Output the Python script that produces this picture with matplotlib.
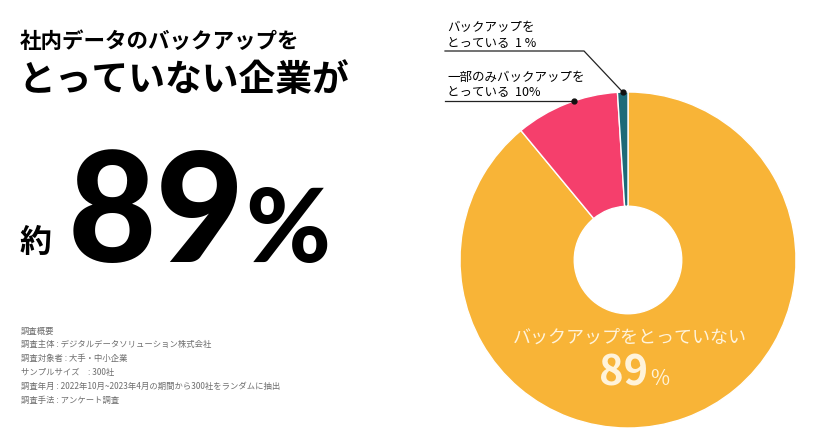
"""
plot.py - donut chart: share of companies backing up internal data
"""
import numpy as np
import matplotlib
matplotlib.use("Agg")
import matplotlib.pyplot as plt

plt.rcParams['font.family'] = ['Noto Sans CJK JP', 'DejaVu Sans']

# --------------------------------- #
# data

shares = [89, 10, 1]
shareColors = ['#F8B437', '#F53F6C', '#1D6A78']
calloutLines = [None,
                ['一部のみバックアップを', 'とっている  10%'],
                ['バックアップを', 'とっている  1 %']]
insideLabel = 'バックアップをとっていない'
headline = ['社内データのバックアップを', 'とっていない企業が']
bigNumber = '89'
surveyNotes = ['調査概要',
               '調査主体 : デジタルデータソリューション株式会社',
               '調査対象者 : 大手・中小企業',
               'サンプルサイズ　: 300社',
               '調査年月 : 2022年10月~2023年4月の期間から300社をランダムに抽出',
               '調査手法 : アンケート調査']

# --------------------------------- #

W, H = 818, 447
fig = plt.figure(figsize=(W / 100, H / 100), dpi=100)
ax = fig.add_axes([0, 0, 1, 1])


def Y(y):
    # pixel row from top -> data y (up)
    return H - y


cx, cy, R = 628, Y(260), 168
wedges, _ = ax.pie(shares, colors=shareColors, startangle=90, counterclock=False,
                   radius=R, center=(cx, cy),
                   wedgeprops=dict(width=R * 0.68, edgecolor='white', linewidth=1))
ax.set_xlim(0, W)
ax.set_ylim(0, H)
ax.set_aspect('auto')
ax.axis('off')

# headline + big number
ax.text(20, Y(41), headline[0], fontsize=15.5, fontweight='bold', va='center', ha='left')
ax.text(18, Y(81), headline[1], fontsize=26.5, fontweight='bold', va='center', ha='left')
ax.text(20, Y(243), '約', fontsize=23, fontweight='bold', va='center', ha='left')
ax.text(68, Y(262), bigNumber, fontsize=110, fontweight='black', family='Lato',
        va='baseline', ha='left')
ax.text(245, Y(262), '%', fontsize=74, fontweight='black', family='Lato',
        va='baseline', ha='left')

# survey notes
for i, line in enumerate(surveyNotes):
    ax.text(21, Y(331 + i * 13.9), line, fontsize=6, color='#6e6e6e', va='center', ha='left')

# callouts
textRows = {1: (77, 92, 101), 2: (28, 43, 51)}
elbowX = {1: None, 2: 584}
for i, lines in enumerate(calloutLines):
    if lines is None:
        continue
    w = wedges[i]
    y1, y2, yLine = textRows[i]
    if elbowX[i] is None:
        # dot where the underline meets the outer edge of the slice
        py = Y(yLine)
        px = cx - np.sqrt(R ** 2 - (py - cy) ** 2)
        ex = px
    else:
        ang = np.deg2rad((w.theta1 + w.theta2) / 2)
        px, py = cx + R * np.cos(ang), cy + R * np.sin(ang)
        ex = elbowX[i]
    ax.text(447, Y(y1), lines[0], fontsize=9, va='center', ha='left')
    ax.text(447, Y(y2), lines[1], fontsize=9, va='center', ha='left')
    ax.plot([445, ex, px], [Y(yLine), Y(yLine), py], color='#222222', lw=0.9,
            solid_joinstyle='miter')
    ax.plot(px, py, 'o', color='#111111', ms=3.5)

# label inside the big slice
ax.text(630, Y(338), insideLabel, fontsize=13, color='#FFF3DA', va='center', ha='center')
ax.text(648, Y(385), '%s' % shares[0], fontsize=30, fontweight='bold', color='#FFF3DA',
        va='baseline', ha='right')
ax.text(650, Y(385), '%', fontsize=15, color='#FFF3DA', va='baseline', ha='left')

fig.savefig('out.png', dpi=100)
